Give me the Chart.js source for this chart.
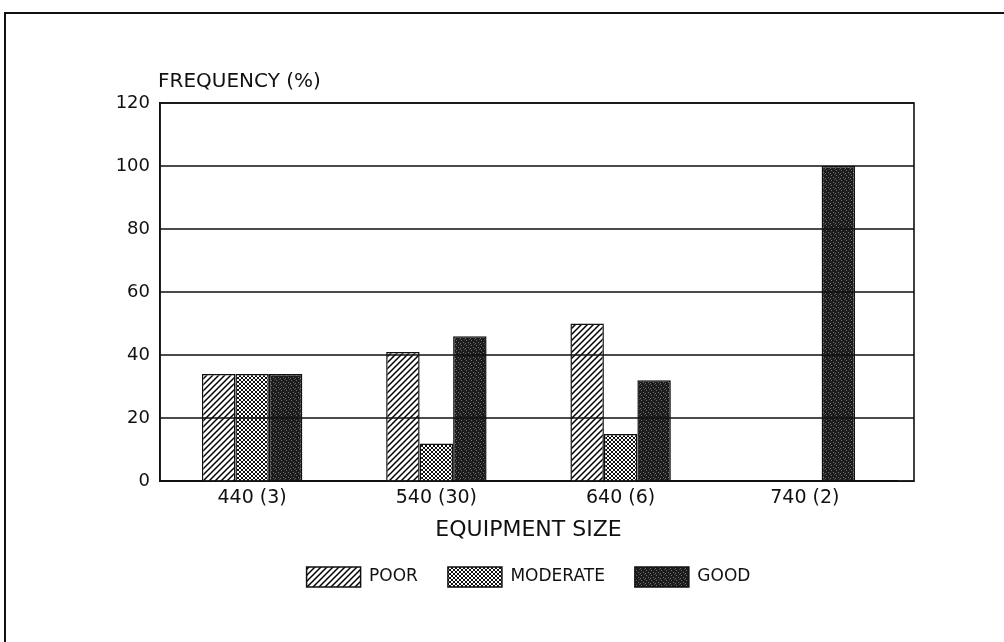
<!DOCTYPE html>
<html>
<head>
<meta charset="utf-8">
<script src="https://cdn.jsdelivr.net/npm/chart.js@4/dist/chart.umd.min.js"></script>
<style>
  body { margin: 0; background: #fff; }
  #wrap { position: relative; width: 1004px; height: 642px; overflow: hidden; }
  #frame { position: absolute; left: 4px; top: 12px; width: 1010px; height: 640px;
           border-top: 2px solid #111; border-left: 2px solid #111; }
  canvas { position: absolute; left: 0; top: 0; }
</style>
</head>
<body>
<div id="wrap">
  <div id="frame"></div>
  <canvas id="chart9" width="1004" height="642"></canvas>
</div>
<script>
// valeurs (en %)
var categories = ['440 (3)', '540 (30)', '640 (6)', '740 (2)'];
var poor = [34, 41, 50, null];
var moderate = [34, 12, 15, null];
var good = [34, 46, 32, 100];
var yTicks = [0, 20, 40, 60, 80, 100, 120];

var FONT = "'DejaVu Sans', sans-serif";
var FRAME_EXTRA = 17; // le cadre dépasse un peu la dernière catégorie à droite

// motifs de remplissage (hachures, quadrillage, grisé)
function makeTile(size, draw) {
    var c = document.createElement('canvas');
    c.width = size; c.height = size;
    var g = c.getContext('2d');
    draw(g, size);
    return document.getElementById('chart9').getContext('2d').createPattern(c, 'repeat');
}

var hatch = makeTile(6, function(g, s) {
    g.fillStyle = '#fff'; g.fillRect(0, 0, s, s);
    g.strokeStyle = '#000'; g.lineWidth = 1.5;
    g.beginPath();
    g.moveTo(-1, s + 1); g.lineTo(s + 1, -1);
    g.moveTo(-1, 1); g.lineTo(1, -1);
    g.moveTo(s - 1, s + 1); g.lineTo(s + 1, s - 1);
    g.stroke();
});

var checker = makeTile(4, function(g, s) {
    g.fillStyle = '#fff'; g.fillRect(0, 0, s, s);
    g.fillStyle = '#111';
    for (var i = 0; i < s; i++) {
        g.fillRect(i, i, 1, 1);
        g.fillRect(s - 1 - i, i, 1, 1);
    }
});

var stipple = makeTile(5, function(g, s) {
    g.fillStyle = '#1c1c1c'; g.fillRect(0, 0, s, s);
    g.fillStyle = '#707070';
    g.fillRect(1, 0, 1, 1);
    g.fillRect(3, 2, 1, 1);
    g.fillRect(0, 3, 1, 1);
    g.fillStyle = '#4a4a4a';
    g.fillRect(4, 4, 1, 1);
});

// quadrillage horizontal + cadre du graphe + titre de l'axe Y
var framePlugin = {
    id: 'framePlugin',
    afterDatasetsDraw: function(chart) {
        var a = chart.chartArea, ctx = chart.ctx, y = chart.scales.y;
        var right = a.right + FRAME_EXTRA;
        ctx.save();
        ctx.strokeStyle = '#111';
        ctx.lineWidth = 1.6;
        ctx.beginPath();
        yTicks.forEach(function(v) {
            var py = Math.round(y.getPixelForValue(v));
            ctx.moveTo(a.left, py);
            ctx.lineTo(right, py);
        });
        ctx.stroke();
        ctx.strokeRect(a.left, a.top, right - a.left, a.bottom - a.top);
        ctx.restore();
    },
    afterDraw: function(chart) {
        var a = chart.chartArea, ctx = chart.ctx;
        ctx.save();
        ctx.fillStyle = '#111';
        ctx.font = '20px ' + FONT;
        ctx.textBaseline = 'middle';
        ctx.textAlign = 'left';
        ctx.fillText('FREQUENCY (%)', a.left - 2, a.top - 21);
        ctx.restore();
    }
};

var data_for_chart = {
    labels: categories,
    datasets: [
        { label: 'POOR', data: poor, backgroundColor: hatch, borderColor: '#111', borderWidth: 1.5 },
        { label: 'MODERATE', data: moderate, backgroundColor: checker, borderColor: '#111', borderWidth: 1.5 },
        { label: 'GOOD', data: good, backgroundColor: stipple, borderColor: '#111', borderWidth: 1.5 }
    ]
};

var options = {
    responsive: false,
    animation: false,
    layout: { padding: { left: 110, right: 107, top: 103, bottom: 45 } },
    datasets: { bar: { barPercentage: 1, categoryPercentage: 0.545 } },
    plugins: {
        legend: {
            position: 'bottom',
            fullSize: false,
            labels: {
                color: '#111',
                font: { family: FONT, size: 17 },
                boxWidth: 54,
                boxHeight: 20,
                padding: 30
            }
        },
        tooltip: { enabled: false }
    },
    scales: {
        x: {
            grid: { display: false, drawTicks: false },
            border: { display: true, color: '#111', width: 1.6 },
            ticks: { color: '#111', font: { family: FONT, size: 19 }, padding: 5 },
            title: { display: true, text: 'EQUIPMENT SIZE', color: '#111',
                     font: { family: FONT, size: 22, lineHeight: 1 }, padding: { top: 5, bottom: -4 } }
        },
        y: {
            min: yTicks[0],
            max: yTicks[yTicks.length - 1],
            afterFit: function(scale) { scale.width = 50; },
            afterBuildTicks: function(scale) {
                scale.ticks = yTicks.map(function(v) { return { value: v }; });
            },
            grid: { display: false, drawTicks: false },
            border: { display: true, color: '#111', width: 1.6 },
            ticks: { color: '#111', font: { family: FONT, size: 18 }, padding: 10 }
        }
    }
};

var chart = new Chart(document.getElementById('chart9').getContext('2d'), {
    type: 'bar',
    data: data_for_chart,
    options: options,
    plugins: [framePlugin]
});
</script>
</body>
</html>
